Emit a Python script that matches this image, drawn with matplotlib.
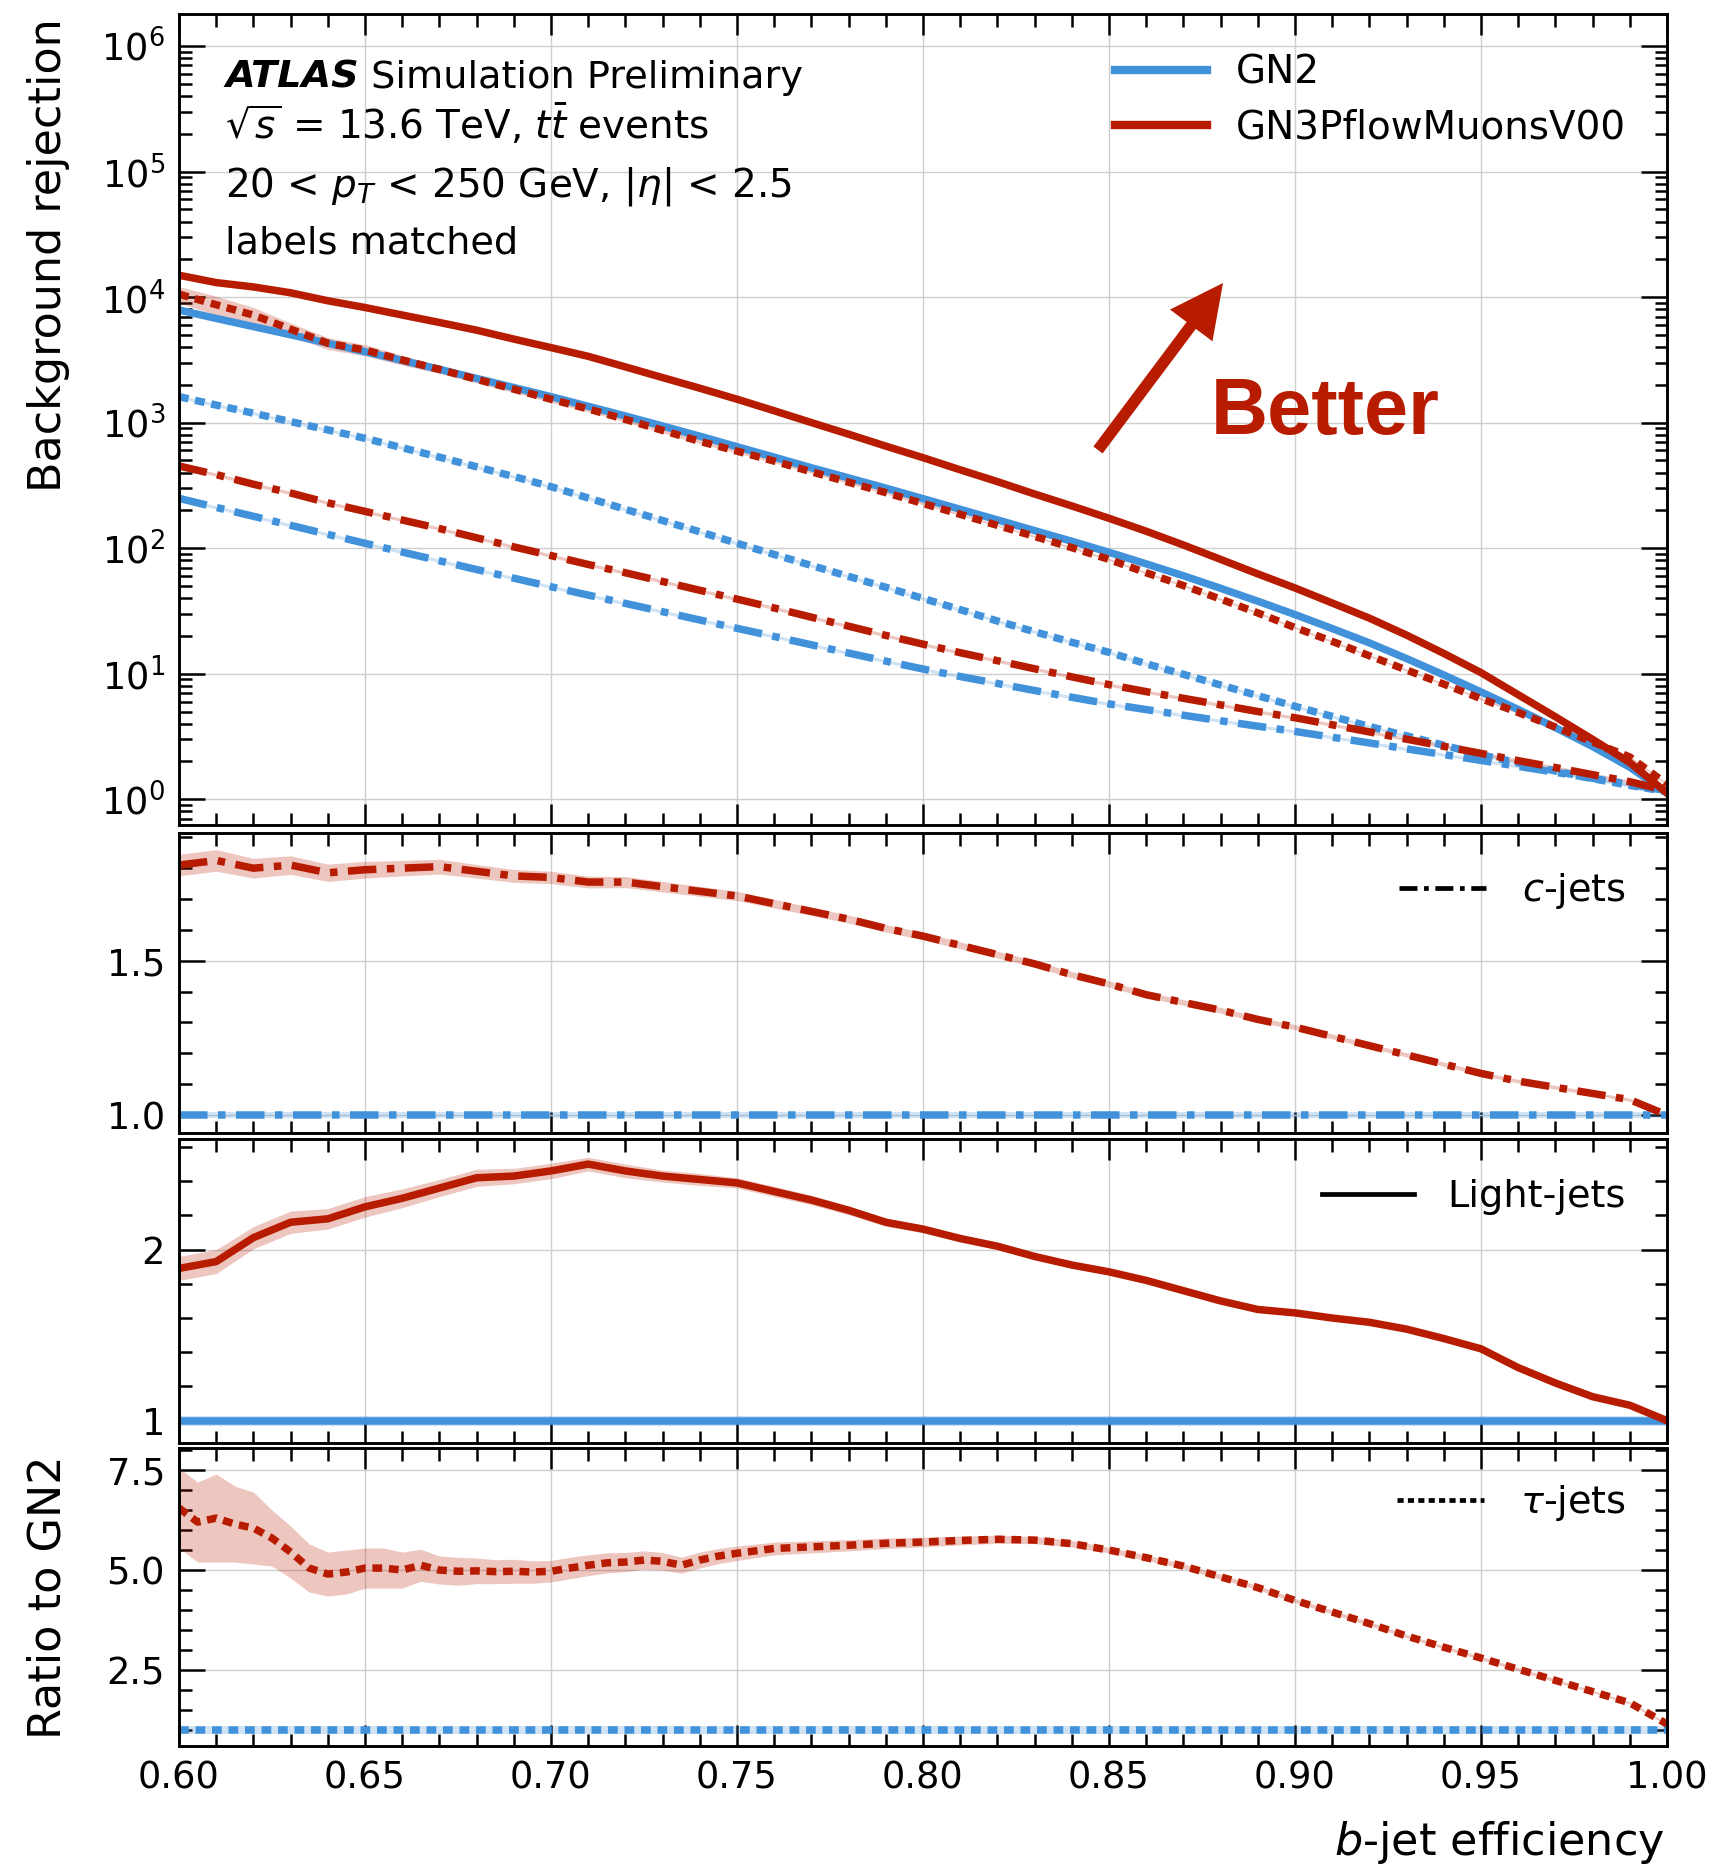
import numpy as np
import matplotlib
matplotlib.use("Agg")
import matplotlib.pyplot as plt
from matplotlib.ticker import (MultipleLocator, LogLocator, NullFormatter,
                               FormatStrFormatter)
from matplotlib.lines import Line2D
from matplotlib.patches import FancyArrow

plt.rcParams["font.family"] = ["DejaVu Sans"]
plt.rcParams["mathtext.fontset"] = "dejavusans"

BLUE = "#4192DB"
RED = "#B81C00"

# ---------------------------------------------------------------- data
# b-jet efficiency working points
b_eff = np.linspace(0.60, 1.00, 41)

# background rejection vs b-jet efficiency
gn2_light = [7900, 6760, 5820, 5010, 4290, 3670, 3130, 2660, 2250, 1905,
             1610, 1350, 1130, 940, 780, 643, 531, 437, 363, 301,
             248, 204, 168, 138, 113.5, 92.7, 75.0, 60.3, 47.9, 37.8,
             29.6, 22.9, 17.6, 13.2, 9.77, 7.16, 5.19, 3.72, 2.63, 1.80, 1.12]
gn3_light = [14930, 13050, 12050, 10820, 9350, 8260, 7200, 6280, 5450, 4630,
             3960, 3375, 2780, 2285, 1880, 1537, 1243, 1001, 809, 650,
             526, 421, 339, 270, 217, 173, 136.5, 106, 81.4, 62.4,
             48.2, 36.6, 27.7, 20.3, 14.5, 10.2, 6.8, 4.54, 3.0, 1.96, 1.12]
gn2_c = [249.5, 211.3, 179.5, 152.1, 128.8, 109.4, 93.1, 79.4, 67.6, 57.7,
         49.3, 42.3, 36.3, 31.2, 26.8, 23.0, 19.8, 17.0, 14.6, 12.6,
         10.9, 9.5, 8.36, 7.35, 6.49, 5.75, 5.18, 4.67, 4.22, 3.82,
         3.47, 3.12, 2.81, 2.52, 2.27, 2.04, 1.83, 1.64, 1.47, 1.31, 1.17]
gn3_c = [451.6, 385.6, 323.1, 275.3, 229.9, 196.4, 167.6, 143.3, 121.0, 102.4,
         87.3, 74.2, 63.7, 54.3, 46.2, 39.3, 33.4, 28.2, 23.9, 20.2,
         17.2, 14.7, 12.7, 10.95, 9.44, 8.19, 7.2, 6.37, 5.65, 5.0,
         4.46, 3.92, 3.44, 3.01, 2.64, 2.32, 2.03, 1.79, 1.57, 1.38, 1.17]
gn2_tau = [1611, 1380, 1189, 1019, 875, 750, 631, 531, 445, 372,
           309, 251, 204, 166, 135, 109.4, 89.1, 72.8, 59.6, 48.8,
           39.8, 32.4, 26.3, 21.6, 17.8, 14.8, 12.0, 9.89, 8.13, 6.68,
           5.50, 4.57, 3.80, 3.20, 2.69, 2.26, 1.95, 1.68, 1.46, 1.29, 1.15]
gn3_tau = [10550, 8690, 7190, 5550, 4290, 3790, 3155, 2655, 2216, 1849,
           1536, 1285, 1061, 867, 709, 593, 494, 406, 335, 277,
           227, 186, 152, 124, 101, 81.4, 63.7, 50.4, 39.3, 30.5,
           23.3, 18.1, 13.9, 10.7, 8.26, 6.33, 4.91, 3.76, 2.86, 2.17, 1.32]
# relative statistical uncertainty of the rejections
gn3_tau_rel_unc = [0.15, 0.17, 0.15, 0.12, 0.11, 0.10, 0.09, 0.07, 0.065, 0.06,
                   0.055, 0.05, 0.045, 0.042, 0.038, 0.033, 0.03, 0.027, 0.025, 0.023,
                   0.021] + [0.02] * 20
rej_rel_unc = 0.03

# ratio to GN2 (c-jets and light-jets)
ratio_c = [1.81, 1.825, 1.80, 1.81, 1.785, 1.795, 1.80, 1.805, 1.79, 1.775,
           1.77, 1.755, 1.755, 1.74, 1.725, 1.71, 1.685, 1.66, 1.635, 1.605,
           1.58, 1.55, 1.52, 1.49, 1.455, 1.425, 1.39, 1.365, 1.34, 1.31,
           1.285, 1.255, 1.225, 1.195, 1.165, 1.135, 1.11, 1.09, 1.07, 1.05, 1.0]
ratio_c_unc = [0.035, 0.035, 0.032, 0.03, 0.028, 0.027, 0.025, 0.024, 0.022, 0.021,
               0.02, 0.019, 0.018, 0.017, 0.016, 0.015, 0.014, 0.013, 0.013, 0.012,
               0.012, 0.011, 0.011, 0.01, 0.01, 0.01, 0.009, 0.009, 0.009, 0.008,
               0.008, 0.008, 0.007, 0.007, 0.007, 0.006, 0.006, 0.006, 0.005, 0.005, 0.005]
ratio_light = [1.89, 1.93, 2.07, 2.16, 2.18, 2.25, 2.30, 2.36, 2.42, 2.43,
               2.46, 2.50, 2.46, 2.43, 2.41, 2.39, 2.34, 2.29, 2.23, 2.16,
               2.12, 2.065, 2.02, 1.96, 1.91, 1.87, 1.82, 1.76, 1.70, 1.65,
               1.63, 1.60, 1.575, 1.535, 1.48, 1.42, 1.31, 1.22, 1.14, 1.09, 1.0]
ratio_light_unc = [0.07, 0.07, 0.065, 0.065, 0.06, 0.06, 0.055, 0.05, 0.05, 0.045,
                   0.045, 0.04, 0.04, 0.035, 0.035, 0.03, 0.03, 0.028, 0.026, 0.024,
                   0.022, 0.02, 0.02, 0.018, 0.017, 0.016, 0.015, 0.014, 0.013, 0.012,
                   0.012, 0.011, 0.011, 0.01, 0.01, 0.01, 0.009, 0.008, 0.007, 0.006, 0.005]

# ratio to GN2 (tau-jets), finer binning at low efficiency
tau_eff = [0.600, 0.605, 0.610, 0.615, 0.620, 0.625, 0.630, 0.635, 0.640, 0.645,
           0.650, 0.655, 0.660, 0.665, 0.670, 0.675, 0.680, 0.685, 0.690, 0.695,
           0.700, 0.705, 0.710, 0.715, 0.720, 0.725, 0.730, 0.735, 0.740, 0.745,
           0.750, 0.76, 0.77, 0.78, 0.79, 0.80, 0.81, 0.82, 0.83, 0.84,
           0.85, 0.86, 0.87, 0.88, 0.89, 0.90, 0.91, 0.92, 0.93, 0.94,
           0.95, 0.96, 0.97, 0.98, 0.99, 1.00]
ratio_tau = [6.55, 6.20, 6.30, 6.15, 6.05, 5.80, 5.45, 5.05, 4.90, 4.95,
             5.05, 5.05, 5.00, 5.12, 5.00, 4.97, 4.98, 4.96, 4.97, 4.95,
             4.97, 5.05, 5.12, 5.18, 5.20, 5.25, 5.22, 5.12, 5.25, 5.35,
             5.42, 5.54, 5.58, 5.62, 5.67, 5.70, 5.74, 5.77, 5.75, 5.66,
             5.50, 5.31, 5.10, 4.83, 4.56, 4.24, 3.95, 3.66, 3.35, 3.07,
             2.80, 2.52, 2.24, 1.96, 1.68, 1.15]
ratio_tau_unc = [1.0, 1.0, 1.1, 0.95, 0.9, 0.7, 0.65, 0.6, 0.55, 0.55,
                 0.5, 0.5, 0.45, 0.4, 0.35, 0.35, 0.32, 0.3, 0.3, 0.28,
                 0.27, 0.27, 0.26, 0.25, 0.24, 0.23, 0.22, 0.2, 0.2, 0.19,
                 0.18, 0.16, 0.15, 0.14, 0.13, 0.12, 0.11, 0.1, 0.09, 0.08,
                 0.07, 0.07, 0.06, 0.06, 0.05, 0.05, 0.05, 0.05, 0.04, 0.04,
                 0.04, 0.04, 0.04, 0.03, 0.03, 0.03]
# GN2 reference bands in the ratio panels
gn2_ratio_unc = {"c": 0.01, "light": 0.03, "tau": 0.1}

# ---------------------------------------------------------------- styling
LW = 5.4
SOLID = "-"
DASHDOT = (0, (3.8, 1.4, 1.0, 1.4))
DOTTED = (0, (1.3, 0.9))

W, H = 1717, 1871
fig = plt.figure(figsize=(W / 100, H / 100), dpi=100)


def box(top, bottom, left=179, right=1667):
    return [left / W, 1 - bottom / H, (right - left) / W, (bottom - top) / H]


ax_main = fig.add_axes(box(14, 825))
ax_c = fig.add_axes(box(833.3, 1133.3))
ax_l = fig.add_axes(box(1139.3, 1442.7))
ax_t = fig.add_axes(box(1447.7, 1746))
axes = [ax_main, ax_c, ax_l, ax_t]


def style(ax, show_xlabels=False):
    ax.set_xlim(0.60, 1.00)
    ax.set_axisbelow(True)
    ax.grid(True, which="major", color="#cfcfcf", lw=1.0)
    for s in ax.spines.values():
        s.set_linewidth(2.1)
    ax.xaxis.set_major_locator(MultipleLocator(0.05))
    ax.xaxis.set_minor_locator(MultipleLocator(0.01))
    ax.xaxis.set_major_formatter(FormatStrFormatter("%.2f"))
    ax.tick_params(which="both", direction="in", top=True, right=True,
                   width=1.8, labelsize=26.5, pad=10)
    ax.tick_params(axis="x", which="major", length=15)
    ax.tick_params(axis="y", which="major", length=18.5)
    ax.tick_params(which="minor", length=9)
    ax.tick_params(axis="x", labelbottom=show_xlabels)


for ax in axes:
    style(ax, show_xlabels=(ax is ax_t))

# ---------------------------------------------------------------- main panel
x = b_eff
curves = [
    (gn2_light, BLUE, SOLID, None), (gn2_c, BLUE, DASHDOT, None), (gn2_tau, BLUE, DOTTED, None),
    (gn3_light, RED, SOLID, None), (gn3_c, RED, DASHDOT, None), (gn3_tau, RED, DOTTED, gn3_tau_rel_unc),
]
for vals, col, ls, rel in curves:
    v = np.asarray(vals, dtype=float)
    r = rej_rel_unc if rel is None else np.asarray(rel)
    ax_main.fill_between(x, v * (1 - r), v * (1 + r), color=col, alpha=0.25, lw=0)
    ax_main.plot(x, v, color=col, ls=ls, lw=LW)

ax_main.set_yscale("log")
ax_main.set_ylim(10 ** -0.205, 10 ** 6.255)
ax_main.yaxis.set_major_locator(LogLocator(base=10, numticks=20))
ax_main.yaxis.set_minor_locator(LogLocator(base=10, subs=np.arange(2, 10), numticks=100))
ax_main.yaxis.set_minor_formatter(NullFormatter())

model_handles = [Line2D([], [], color=BLUE, lw=6), Line2D([], [], color=RED, lw=6)]
ax_main.legend(model_handles, ["GN2", "GN3PflowMuonsV00"], loc="center right",
               bbox_to_anchor=(1626 / W, 1 - 100 / H), bbox_transform=fig.transFigure,
               frameon=False, fontsize=28, handlelength=2.35, handletextpad=0.75,
               labelspacing=0.45, borderpad=0, borderaxespad=0)

# ---------------------------------------------------------------- ratio panels
ratio_panels = [
    (ax_c, b_eff, ratio_c, ratio_c_unc, DASHDOT, "c", r"$c$-jets", 891, 2.3, 0.93),
    (ax_l, b_eff, ratio_light, ratio_light_unc, SOLID, "light", "Light-jets", 1197, 2.4, 0.88),
    (ax_t, tau_eff, ratio_tau, ratio_tau_unc, DOTTED, "tau", r"$\tau$-jets", 1503, 2.3, 0.93),
]
for ax, xe, r, u, ls, key, label, ycen, hl, htp in ratio_panels:
    xe = np.asarray(xe)
    r = np.asarray(r)
    u = np.asarray(u)
    ones = np.ones_like(xe)
    ax.fill_between(xe, ones - gn2_ratio_unc[key], ones + gn2_ratio_unc[key],
                    color=BLUE, alpha=0.25, lw=0)
    ax.plot(xe, ones, color=BLUE, ls=ls, lw=LW)
    ax.fill_between(xe, r - u, r + u, color=RED, alpha=0.25, lw=0)
    ax.plot(xe, r, color=RED, ls=ls, lw=LW)
    ax.legend([Line2D([], [], color="black", lw=3.4, ls=ls)], [label],
              loc="center right", bbox_to_anchor=(1626 / W, 1 - ycen / H),
              bbox_transform=fig.transFigure, frameon=False, fontsize=27.5,
              handlelength=hl, handletextpad=htp, borderpad=0, borderaxespad=0)

ax_c.set_ylim(0.941, 1.913)
ax_c.yaxis.set_major_locator(MultipleLocator(0.5))
ax_c.yaxis.set_minor_locator(MultipleLocator(0.1))
ax_c.yaxis.set_major_formatter(FormatStrFormatter("%.1f"))

ax_l.set_ylim(0.871, 2.645)
ax_l.yaxis.set_major_locator(MultipleLocator(1))
ax_l.yaxis.set_minor_locator(MultipleLocator(0.2))
ax_l.yaxis.set_major_formatter(FormatStrFormatter("%d"))

ax_t.set_ylim(0.6, 8.06)
ax_t.yaxis.set_major_locator(MultipleLocator(2.5))
ax_t.yaxis.set_minor_locator(MultipleLocator(0.5))
ax_t.yaxis.set_major_formatter(FormatStrFormatter("%.1f"))

# ---------------------------------------------------------------- labels
fig.text(48 / W, 1 - 18 / H, "Background rejection", rotation=90,
         fontsize=32, ha="center", va="top")
fig.text(48 / W, 1 - 1597 / H, "Ratio to GN2", rotation=90,
         fontsize=32, ha="center", va="center")
fig.text(1665 / W, 1 - 1843 / H, r"$b$-jet efficiency", fontsize=32,
         ha="right", va="center")

t_atlas = fig.text(225 / W, 1 - 87.5 / H, "ATLAS", fontsize=27.5,
                   fontweight="bold", fontstyle="italic", va="baseline")
ax_main.annotate(" Simulation Preliminary", xy=(1, 0), xycoords=t_atlas,
                 fontsize=27.5, va="bottom", ha="left")
fig.text(225 / W, 1 - 139.3 / H, r"$\sqrt{s}$ = 13.6 TeV, $t\bar{t}$ events",
         fontsize=28, va="baseline")
fig.text(225 / W, 1 - 196.7 / H, r"20 < $p_{T}$ < 250 GeV, $|\eta|$ < 2.5",
         fontsize=28, va="baseline")
fig.text(225 / W, 1 - 254 / H, "labels matched", fontsize=27.5, va="baseline")

# "Better" arrow
fig.add_artist(FancyArrow(10.98, (H - 450) / 100, 1.25, 1.67, width=0.115,
                          head_width=0.53, head_length=0.53,
                          length_includes_head=True, color=RED, lw=0,
                          transform=fig.dpi_scale_trans))
fig.text(1211 / W, 1 - 434 / H, "Better", fontsize=57,
         family=["Liberation Sans", "DejaVu Sans"], fontweight="bold",
         color=RED, va="baseline")

fig.savefig("out.png", dpi=100)
